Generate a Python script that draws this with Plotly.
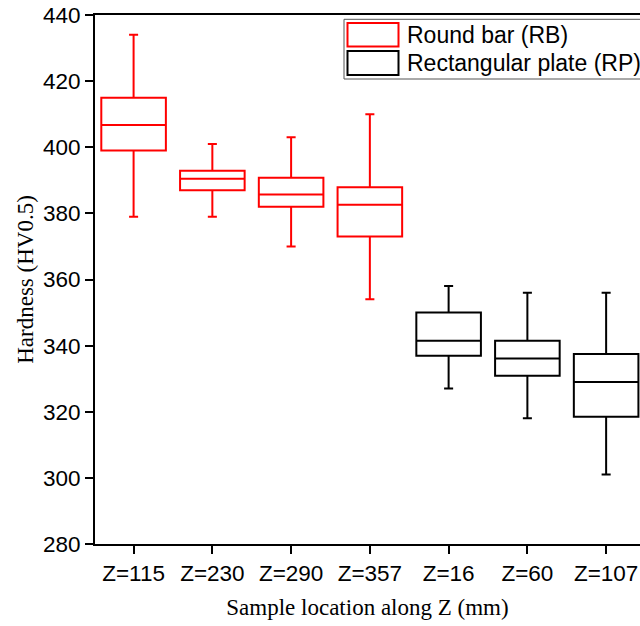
import plotly.graph_objects as go

# ---- data ----
rb_categories = ["Z=115", "Z=230", "Z=290", "Z=357"]
rb_lower = [379, 379, 370, 354]
rb_q1 = [399, 387, 382, 373]
rb_median = [406.7, 390.5, 385.7, 382.6]
rb_q3 = [415, 392.9, 390.8, 387.9]
rb_upper = [434, 401, 403, 410]

rp_categories = ["Z=16", "Z=60", "Z=107"]
rp_lower = [327, 318, 301]
rp_q1 = [336.9, 330.9, 318.5]
rp_median = [341.5, 336.1, 329]
rp_q3 = [350, 341.5, 337.5]
rp_upper = [358, 356, 356]

y_ticks = [280, 300, 320, 340, 360, 380, 400, 420, 440]
legend_labels = ["Round bar (RB)", "Rectangular plate (RP)"]
colors = ["#ff0000", "#000000"]

W, H = 640, 626
ML, MR, MT, MB = 95, 0, 15, 82
PW, PH = W - ML - MR, H - MT - MB


def px(x):
    return (x - ML) / PW


def py(y):
    return (H - MB - y) / PH


fig = go.Figure()
for cats, lo, q1, med, q3, up, col, name in [
    (rb_categories, rb_lower, rb_q1, rb_median, rb_q3, rb_upper, colors[0], legend_labels[0]),
    (rp_categories, rp_lower, rp_q1, rp_median, rp_q3, rp_upper, colors[1], legend_labels[1]),
]:
    fig.add_trace(go.Box(
        x=cats, lowerfence=lo, q1=q1, median=med, q3=q3, upperfence=up,
        name=name, line=dict(color=col, width=2), fillcolor="rgba(0,0,0,0)",
        width=0.82, whiskerwidth=0.14, boxpoints=False, showlegend=False,
    ))

axis_font = dict(family="Liberation Sans, Arial, sans-serif", size=22.5, color="black")
legend_font = dict(family="Liberation Sans, Arial, sans-serif", size=23, color="black")
title_font = dict(family="Liberation Serif, Times New Roman, serif", size=23, color="black")

fig.update_layout(
    width=W, height=H,
    margin=dict(l=ML, r=MR, t=MT, b=MB, autoexpand=False),
    paper_bgcolor="white", plot_bgcolor="white",
    showlegend=False,
    xaxis=dict(
        type="category", categoryorder="array",
        categoryarray=rb_categories + rp_categories,
        range=[-0.49, 6.43],
        showline=True, linecolor="black", linewidth=2, mirror=True,
        ticks="outside", ticklen=8, tickwidth=2, tickcolor="black",
        showgrid=False, zeroline=False, tickfont=axis_font,
        title=dict(text="Sample location along Z (mm)", font=title_font, standoff=14),
        automargin=False,
    ),
    yaxis=dict(
        range=[280, 440], tickvals=y_ticks,
        showline=True, linecolor="black", linewidth=2, mirror=False,
        ticks="outside", ticklen=8, tickwidth=2, tickcolor="black",
        showgrid=False, zeroline=False, tickfont=axis_font,
        title=dict(text="Hardness (HV0.5)", font=title_font, standoff=3),
        automargin=False,
    ),
)

# custom legend (box-style swatches)
shapes = [
    dict(type="rect", xref="paper", yref="paper",
         x0=px(344), x1=px(642), y0=py(79), y1=py(19.3),
         line=dict(color="#555555", width=1), fillcolor="white", layer="above"),
    dict(type="rect", xref="paper", yref="paper",
         x0=px(347.5), x1=px(398.5), y0=py(46.5), y1=py(23),
         line=dict(color=colors[0], width=2), layer="above"),
    dict(type="rect", xref="paper", yref="paper",
         x0=px(347.5), x1=px(398.5), y0=py(75), y1=py(51),
         line=dict(color=colors[1], width=2), layer="above"),
]
annotations = [
    dict(text=legend_labels[0], xref="paper", yref="paper", x=px(405), y=py(34.7),
         xanchor="left", yanchor="middle", showarrow=False, font=legend_font),
    dict(text=legend_labels[1], xref="paper", yref="paper", x=px(405), y=py(63),
         xanchor="left", yanchor="middle", showarrow=False, font=legend_font),
]
fig.update_layout(shapes=shapes, annotations=annotations)

fig.write_html(
    "out.html",
    config=dict(displayModeBar=False),
    post_script="document.body.style.margin='0';document.body.style.overflow='hidden';",
)
